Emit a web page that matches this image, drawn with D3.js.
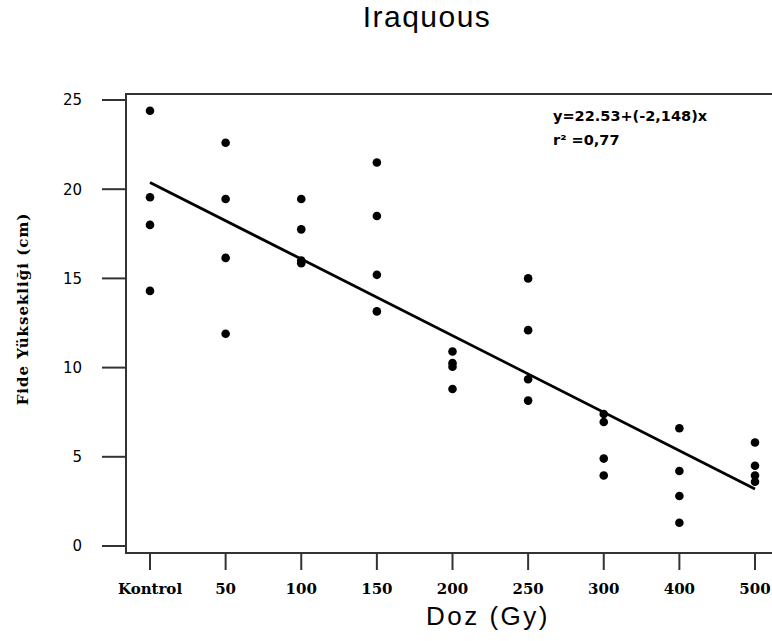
<!DOCTYPE html>
<html>
  <head>
    <meta charset="utf-8">
    <title>Iraquous</title>
    <script src="https://d3js.org/d3.v7.min.js"></script>
    <style>
      body {
        margin: 0;
        background-color: white;
      }

      svg {
        background-color: white;
        display: block;
      }

      #title {
        font-family: "Liberation Sans", Arial, sans-serif;
        font-size: 30px;
        letter-spacing: 1.5px;
      }

      .frame {
        stroke: #333;
        stroke-width: 2px;
        fill: none;
      }

      .tick-line {
        stroke: #333;
        stroke-width: 2px;
      }

      .y-label {
        font-family: "DejaVu Sans", sans-serif;
        font-size: 15px;
      }

      .x-label {
        font-family: "DejaVu Serif", serif;
        font-weight: bold;
        font-size: 15px;
      }

      .dot {
        fill: black;
      }

      .fit {
        stroke: black;
        stroke-width: 2.8px;
        fill: none;
      }

      .note {
        font-family: "DejaVu Sans", sans-serif;
        font-weight: bold;
        font-size: 14.5px;
      }
    </style>
  </head>
  <body>
    <svg></svg>

    <script>
      //begin: data
      var doses = ["Kontrol", "50", "100", "150", "200", "250", "300", "400", "500"];
      var yTicks = [0, 5, 10, 15, 20, 25];
      // fide heights (cm), four replicates per dose
      var heightKontrol = [24.4, 19.55, 18.0, 14.3];
      var height50 = [22.6, 19.45, 16.15, 11.9];
      var height100 = [19.45, 17.75, 16.0, 15.85];
      var height150 = [21.5, 18.5, 15.2, 13.15];
      var height200 = [10.9, 10.25, 10.05, 8.8];
      var height250 = [15.0, 12.1, 9.35, 8.15];
      var height300 = [7.4, 6.95, 4.9, 3.95];
      var height400 = [6.6, 4.2, 2.8, 1.3];
      var height500 = [5.8, 4.5, 3.95, 3.6];
      var intercept = 22.53, slope = -2.148;
      var equationText = "y=22.53+(-2,148)x";
      var r2Text = "r\u00B2 =0,77";
      //end: data

      //begin: layout config.
      var svgWidth = 772,
          svgHeight = 641,
          frameLeft = 126,
          frameTop = 94,
          frameBottom = 553,
          frameRight = 800,
          yTickLength = 24,
          xTickLength = 17;
      //end: layout config.

      var allHeights = [heightKontrol, height50, height100, height150, height200,
                        height250, height300, height400, height500];

      var points = [];
      doses.forEach(function(dose, i) {
        allHeights[i].forEach(function(v) {
          points.push({dose: dose, value: v});
        });
      });

      var x = d3.scalePoint().domain(doses).range([150, 755]);
      var y = d3.scaleLinear().domain([0, 25]).range([546, 100]);

      var svg = d3.select("svg")
        .attr("width", svgWidth)
        .attr("height", svgHeight);

      // title
      svg.append("text")
        .attr("id", "title")
        .attr("x", 427)
        .attr("y", 27)
        .attr("text-anchor", "middle")
        .text("Iraquous");

      // frame (right edge falls outside the picture)
      svg.append("path")
        .classed("frame", true)
        .attr("d", "M" + frameRight + "," + frameTop + "H" + frameLeft + "V" + frameBottom + "H" + frameRight);

      // y axis ticks + labels
      var yTick = svg.append("g").selectAll("g")
        .data(yTicks)
        .enter().append("g")
          .attr("transform", function(d) { return "translate(0," + y(d) + ")"; });

      yTick.append("line")
        .classed("tick-line", true)
        .attr("x1", frameLeft - yTickLength)
        .attr("x2", frameLeft);

      yTick.append("text")
        .classed("y-label", true)
        .attr("x", frameLeft - yTickLength - 20)
        .attr("dy", "0.36em")
        .attr("text-anchor", "end")
        .text(function(d) { return d; });

      // x axis ticks + labels
      var xTick = svg.append("g").selectAll("g")
        .data(doses)
        .enter().append("g")
          .attr("transform", function(d) { return "translate(" + x(d) + ",0)"; });

      xTick.append("line")
        .classed("tick-line", true)
        .attr("y1", frameBottom)
        .attr("y2", frameBottom + xTickLength);

      xTick.append("text")
        .classed("x-label", true)
        .attr("y", 594)
        .attr("text-anchor", "middle")
        .text(function(d) { return d; });

      // axis titles
      svg.append("text")
        .attr("x", 488)
        .attr("y", 625)
        .attr("text-anchor", "middle")
        .style("font-family", "'Liberation Sans', Arial, sans-serif")
        .style("font-size", "26px")
        .style("letter-spacing", "2.5px")
        .text("Doz (Gy)");

      svg.append("text")
        .attr("transform", "translate(28,309) rotate(-90)")
        .attr("text-anchor", "middle")
        .style("font-family", "'DejaVu Serif', serif")
        .style("font-weight", "bold")
        .style("font-size", "15px")
        .style("letter-spacing", "1px")
        .text("Fide Yüksekliği (cm)");

      // regression line, x = dose index 1..9
      var fitLine = d3.line()
        .x(function(d) { return x(d); })
        .y(function(d) { return y(intercept + slope * (doses.indexOf(d) + 1)); });

      svg.append("path")
        .classed("fit", true)
        .attr("d", fitLine([doses[0], doses[doses.length - 1]]));

      // data points
      svg.append("g").selectAll(".dot")
        .data(points)
        .enter().append("circle")
          .classed("dot", true)
          .attr("cx", function(d) { return x(d.dose); })
          .attr("cy", function(d) { return y(d.value); })
          .attr("r", 4.3);

      // equation note
      svg.append("text")
        .classed("note", true)
        .attr("x", 553)
        .attr("y", 121)
        .text(equationText);

      svg.append("text")
        .classed("note", true)
        .attr("x", 553)
        .attr("y", 144.5)
        .text(r2Text);
    </script>
  </body>
</html>
